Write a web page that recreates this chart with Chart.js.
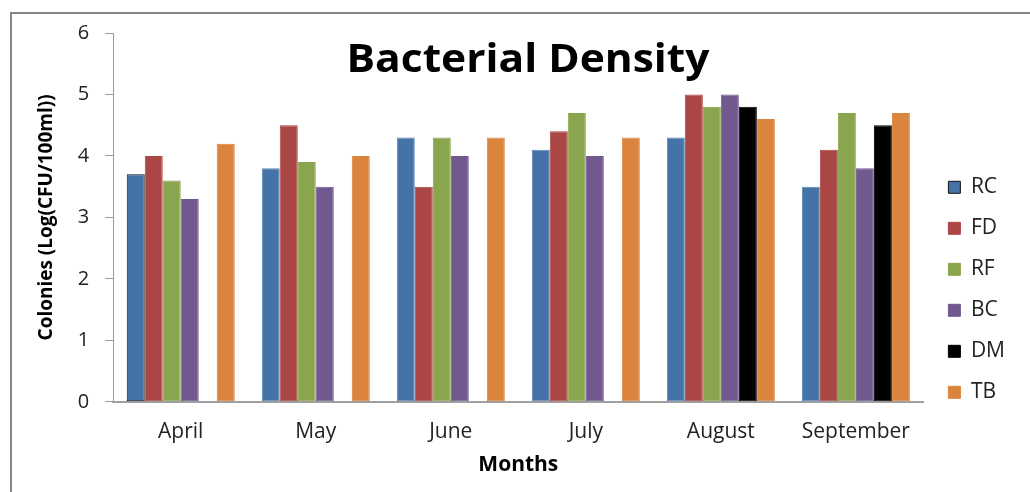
<!DOCTYPE html>
<html>
<head>
<meta charset="utf-8">
<script src="https://cdn.jsdelivr.net/npm/chart.js@4/dist/chart.umd.min.js"></script>
<style>
  html, body { margin: 0; padding: 0; background: #fff; }
  #wrap { position: relative; width: 1030px; height: 492px; overflow: hidden; }
  #frame { position: absolute; left: 10px; top: 12px; width: 1100px; height: 600px;
           border-left: 2px solid #868686; border-top: 2px solid #868686; }
  #title { position: absolute; left: 0; width: 1056px; top: 37px; text-align: center;
           font-family: "Open Sans", sans-serif; font-weight: bold; font-size: 39px; line-height: 1;
           color: #000; transform: scaleX(1.09); transform-origin: 528px 0; }
  canvas { position: absolute; left: 0; top: 0; }
</style>
</head>
<body>
<div id="wrap">
  <div id="frame"></div>
  <canvas id="c" width="1030" height="492"></canvas>
  <div id="title">Bacterial Density</div>
</div>
<script>
// Sampling months
const months = ["April", "May", "June", "July", "August", "September"];

// Colonies, Log(CFU/100ml), per site
const rc = [3.7, 3.8, 4.3, 4.1, 4.3, 3.5];
const fd = [4.0, 4.5, 3.5, 4.4, 5.0, 4.1];
const rf = [3.6, 3.9, 4.3, 4.7, 4.8, 4.7];
const bc = [3.3, 3.5, 4.0, 4.0, 5.0, 3.8];
const dm = [null, null, null, null, 4.8, 4.5];
const tb = [4.2, 4.0, 4.3, 4.3, 4.6, 4.7];

const yTicks = [0, 1, 2, 3, 4, 5, 6];

const font = "'Open Sans', sans-serif";

function series(label, data, color, edge) {
  return {
    label,
    data,
    backgroundColor: color,
    borderColor: edge || color,
    borderWidth: 1,
    borderSkipped: false
  };
}

// Nudge the legend block lower and a little to the right of its default slot
const legendNudge = {
  id: "legendNudge",
  afterLayout(chart) {
    const lg = chart.legend;
    if (!lg) return;
    lg.top += 21; lg.bottom += 21;
    lg.left += 5; lg.right += 5;
  }
};

new Chart(document.getElementById("c"), {
  type: "bar",
  data: {
    labels: months,
    datasets: [
      series("RC", rc, "#4572A7", ["#111111", "#5b86b8", "#5b86b8", "#5b86b8", "#5b86b8", "#5b86b8"]),
      series("FD", fd, "#AA4643"),
      series("RF", rf, "#89A54E"),
      series("BC", bc, "#71588F"),
      series("DM", dm, "#000000"),
      series("TB", tb, "#DB843D")
    ]
  },
  plugins: [legendNudge],
  options: {
    responsive: false,
    animation: false,
    devicePixelRatio: 1,
    layout: { padding: { top: 33, right: 20, bottom: 12, left: 31 } },
    datasets: { bar: { categoryPercentage: 0.8, barPercentage: 1.0 } },
    plugins: {
      title: { display: false },
      tooltip: { enabled: false },
      legend: {
        position: "right",
        align: "end",
        fullSize: false,
        labels: {
          boxWidth: 12,
          boxHeight: 12,
          padding: 20,
          color: "#222",
          font: { family: font, size: 21 }
        }
      }
    },
    scales: {
      x: {
        grid: { display: false },
        border: { display: true, color: "#a0a0a0", width: 2 },
        ticks: { color: "#222", padding: 10, font: { family: font, size: 21 } },
        title: { display: true, text: "Months", color: "#000", padding: { top: 0 },
                 font: { family: font, size: 21, weight: "bold", lineHeight: 1.0 } }
      },
      y: {
        min: 0,
        max: 6,
        afterBuildTicks: (axis) => { axis.ticks = yTicks.map(v => ({ value: v })); },
        grid: { display: true, drawOnChartArea: false, tickLength: 8, color: "#9a9a9a" },
        border: { display: true, color: "#9a9a9a", width: 1 },
        ticks: { color: "#222", padding: 16, font: { family: font, size: 20 } },
        title: { display: true, text: "Colonies (Log(CFU/100ml))", color: "#000", padding: { bottom: 4 },
                 font: { family: font, size: 19, weight: "bold" } }
      }
    }
  }
});
</script>
</body>
</html>
